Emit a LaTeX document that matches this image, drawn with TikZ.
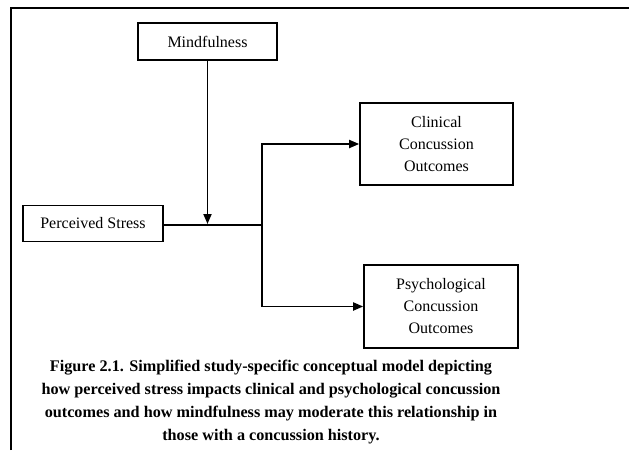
\documentclass[tikz,border=0pt]{standalone}
\usepackage{fontspec}
\setmainfont{Liberation Serif}
\usetikzlibrary{arrows.meta}
\begin{document}
\begin{tikzpicture}[x=1pt,y=-1pt]
\tikzstyle{box}=[draw,line width=1.6pt,inner sep=0pt,align=center,font=\fontsize{16}{22}\selectfont]
\tikzstyle{link}=[line width=1.8pt]
\tikzstyle{tip}=[-{Triangle[length=10pt,width=8pt]}]
\useasboundingbox (0,0) rectangle (629,450);
\draw[link] (11,450) -- (11,8) -- (629,8);
\node[box,minimum width=139pt,minimum height=37pt] (mind) at (207.5,41.5) {Mindfulness};
\node[box,minimum width=140pt,minimum height=36pt] (stress) at (93,223.5) {Perceived Stress};
\node[box,minimum width=153pt,minimum height=82pt] (clin) at (436.5,144) {Clinical\\Concussion\\Outcomes};
\node[box,minimum width=154pt,minimum height=83pt] (psych) at (441,306.5) {Psychological\\Concussion\\Outcomes};
\coordinate (mod) at (207.5,225);
\coordinate (split) at (262,225);
\draw[line width=2.8pt] (stress.east |- split) -- (split);
\draw[link,tip,shorten >=1pt] (mind) -- (mod);
\draw[link,tip] (split) |- (clin);
\draw[link,tip] (split) |- (psych);
\node[font=\bfseries\fontsize{16.2}{22.7}\selectfont,align=center] (caption) at (271,402)
  {Figure 2.1. Simplified study-specific conceptual model depicting\\
   how perceived stress impacts clinical and psychological concussion\\
   outcomes and how mindfulness may moderate this relationship in\\
   those with a concussion history.};
\end{tikzpicture}
\end{document}
